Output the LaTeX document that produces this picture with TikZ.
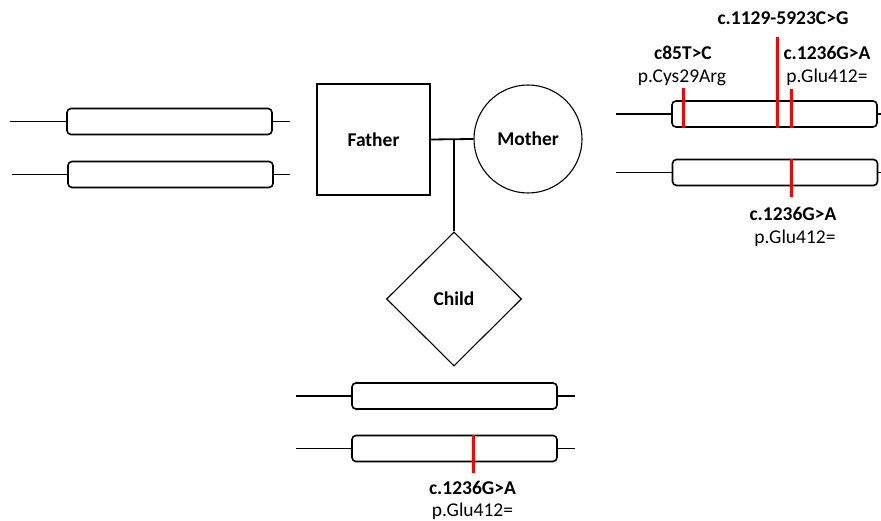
\documentclass[tikz,border=0pt]{standalone}
\usepackage{fontspec}
\setmainfont{Carlito}
\usetikzlibrary{shapes.geometric}

\begin{document}
\begin{tikzpicture}[x=1pt,y=-1pt,
  chrom/.style={draw,line width=1.6pt,rounded corners=4pt,minimum width=205pt,minimum height=26pt,inner sep=0pt},
  stub/.style={line width=1.1pt},
  mut/.style={draw=red,line width=3pt},
  person/.style={draw,line width=1.1pt,inner sep=0pt,font=\fontsize{19.5}{22}\selectfont\bfseries},
  varname/.style={anchor=base,font=\fontsize{19.5}{22}\selectfont\bfseries,inner sep=0pt},
  protname/.style={anchor=base,font=\fontsize{19.5}{22}\selectfont,inner sep=0pt}]

\useasboundingbox (0,0) rectangle (881,521);

% Pedigree
\node[person,minimum width=113pt,minimum height=111pt] (father) at (373.5,139.5) {Father};
\node[person,circle,minimum size=108pt] (mother) at (528,139) {Mother};
\node[person,diamond,minimum width=135pt,minimum height=134pt] (child) at (454,299) {Child};

\draw[line width=1.8pt] (father.east) -- (mother.west);
\coordinate (M) at (454,139);
\draw[line width=1.8pt] (M) -- (child.north);

% Father's chromosomes
\node[chrom] (F1) at (169.5,121.5) {};
\node[chrom] (F2) at (170.5,174.5) {};
\coordinate (F1L) at (10,121.5);
\coordinate (F1R) at (290,121.5);
\coordinate (F2L) at (12,174.5);
\coordinate (F2R) at (290,174.5);
\draw[stub] (F1L) -- (F1.west);
\draw[stub] (F1.east) -- (F1R);
\draw[stub] (F2L) -- (F2.west);
\draw[stub] (F2.east) -- (F2R);

% Mother's chromosomes
\node[chrom] (M1) at (774.5,114) {};
\node[chrom] (M2) at (775,172.5) {};
\coordinate (M1L) at (616,114);
\coordinate (M1R) at (881,114);
\coordinate (M2L) at (616,172.5);
\coordinate (M2R) at (881,172.5);
\draw[stub] (M1L) -- (M1.west);
\draw[stub] (M1.east) -- (M1R);
\draw[stub] (M2L) -- (M2.west);
\draw[stub] (M2.east) -- (M2R);

% Child's chromosomes
\node[chrom] (C1) at (454.5,396) {};
\node[chrom] (C2) at (454.5,448.5) {};
\coordinate (C1L) at (296,396);
\coordinate (C1R) at (575,396);
\coordinate (C2L) at (296,448.5);
\coordinate (C2R) at (575,448.5);
\draw[stub] (C1L) -- (C1.west);
\draw[stub] (C1.east) -- (C1R);
\draw[stub] (C2L) -- (C2.west);
\draw[stub] (C2.east) -- (C2R);

% Variants
\draw[mut] (683,88) -- (683,128);
\draw[mut] (777,37) -- (777,128);
\draw[mut] (791,89) -- (791,128);
\draw[mut] (791,159) -- (791,197);
\draw[mut] (473,435) -- (473,473);

% Labels (placed by baseline)
\node[varname] (v1) at (783,25) {c.1129-5923C>G};
\node[varname] (v2) at (683,60) {c85T>C};
\node[protname] (p2) at (682,83) {p.Cys29Arg};
\node[varname] (v3) at (827,60) {c.1236G>A};
\node[protname] (p3) at (827,83) {p.Glu412=};
\node[varname] (v4) at (793,221) {c.1236G>A};
\node[protname] (p4) at (795,244) {p.Glu412=};
\node[varname] (v5) at (472.5,494) {c.1236G>A};
\node[protname] (p5) at (472.5,516) {p.Glu412=};

\end{tikzpicture}
\end{document}
